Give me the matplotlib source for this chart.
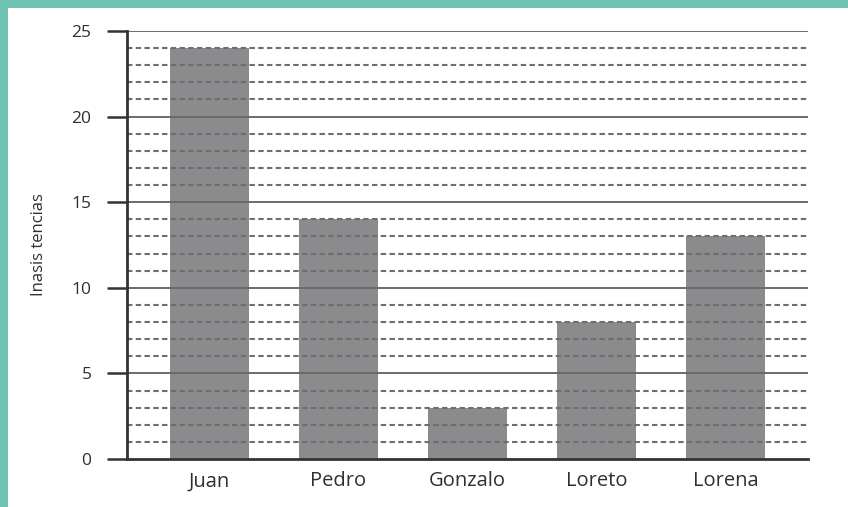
import matplotlib
matplotlib.use("Agg")
import matplotlib.pyplot as plt
from matplotlib.patches import Rectangle

categories = ["Juan", "Pedro", "Gonzalo", "Loreto", "Lorena"]
values = [24, 14, 3, 8, 13]
major_ticks = [0, 5, 10, 15, 20, 25]
minor_lines = [v for v in range(1, 25) if v % 5 != 0]
ylabel = "Inasis tencias"

plt.rcParams['font.family'] = ['Open Sans', 'DejaVu Sans']

fig = plt.figure(figsize=(8.48, 5.07), dpi=100)
fig.patch.set_facecolor("#6fc4b3")
bg = fig.add_axes([8/848, 0, 1 - 8/848, (507-8)/507], zorder=-10)
bg.set_axis_off()
bg.add_patch(Rectangle((0, 0), 1, 1, transform=bg.transAxes, facecolor="white", edgecolor="none"))

ax = fig.add_axes([127/848, 48/507, (808-127)/848, (459-31)/507], zorder=1)
ax.set_facecolor("none")
x = list(range(len(categories)))
ax.bar(x, values, width=0.61, color="#8b8b8d", zorder=1)

for v in minor_lines:
    ax.axhline(v, color="#6e6e6e", lw=1.5, linestyle=(0, (2.6, 1.6)), zorder=2)
for v in major_ticks[1:]:
    ax.axhline(v, color="#6a6a6a", lw=1.4, zorder=2)

ax.set_xlim(-0.64, 4.64)
ax.set_ylim(0, 25)
ax.set_xticks(x)
ax.set_xticklabels(categories, fontsize=14.5, color="#2e2e36")
ax.set_yticks(major_ticks)
ax.set_yticklabels([str(t) for t in major_ticks], fontsize=12.5, color="#2e2e36")
ax.tick_params(axis="x", length=0, pad=9)
ax.tick_params(axis="y", length=14.5, width=1.8, color="#333333", pad=11)
for s in ["top", "right"]:
    ax.spines[s].set_visible(False)
for s in ["left", "bottom"]:
    ax.spines[s].set_linewidth(2)
    ax.spines[s].set_color("#333333")
    ax.spines[s].set_zorder(3)
ax.set_ylabel(ylabel, fontsize=12, color="#2e2e36", labelpad=18)

fig.savefig("out.png", dpi=100)
